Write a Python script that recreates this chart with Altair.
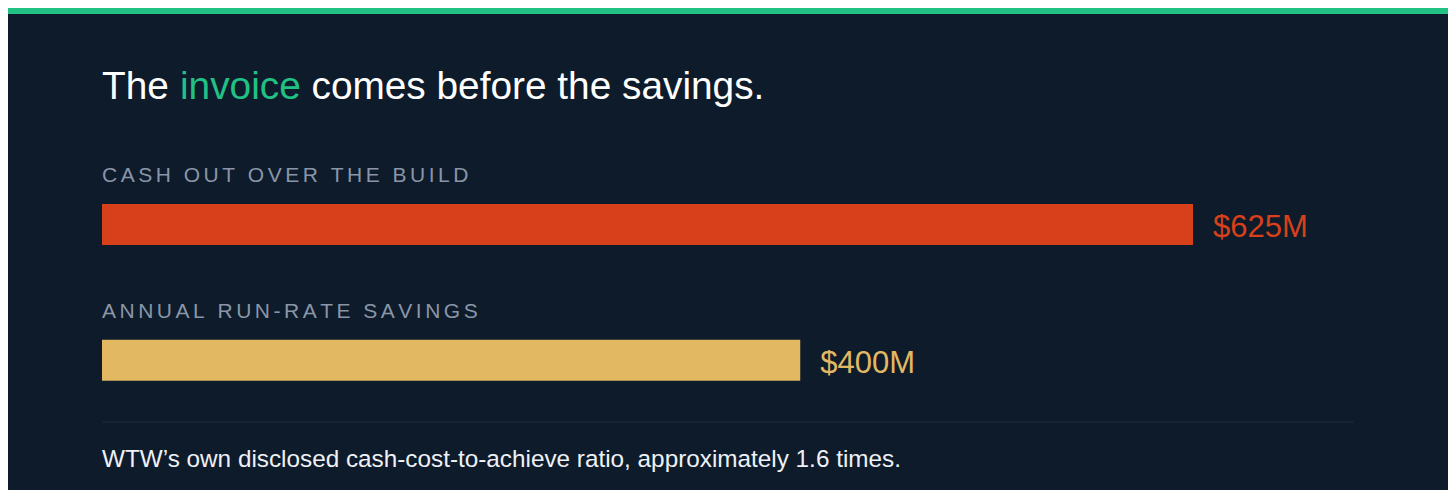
import altair as alt
import pandas as pd

# ---- data ----
categories = ["CASH OUT OVER THE BUILD", "ANNUAL RUN-RATE SAVINGS"]
values = [625, 400]
value_labels = ["$625M", "$400M"]
bar_colors = ["#d7401a", "#e2b862"]
title_parts = ["The", "invoice", "comes before the savings."]
footer_text = "WTW\u2019s own disclosed cash-cost-to-achieve ratio, approximately 1.6 times."

BG = "#0e1b2b"
GREEN = "#21c085"
FONT = "Liberation Sans"


def spaced(s):
    return "\u2006".join(list(s))


df = pd.DataFrame({
    "idx": list(range(len(categories))),
    "category": categories,
    "label": [spaced(c) for c in categories],
    "value": values,
    "vlabel": value_labels,
    "color": bar_colors,
})
one = pd.DataFrame({"k": [0]})

xscale = alt.Scale(domain=[0, 625], range=[94, 1185], padding=0)
yscale = alt.Scale(domain=[0, 1], range=[216.4, 352.3], padding=0)

base = alt.Chart(df)

bars = base.mark_bar(orient="horizontal", size=41).encode(
    x=alt.X("value:Q", scale=xscale, axis=None),
    y=alt.Y("idx:Q", scale=yscale, axis=None),
    color=alt.Color("color:N", scale=None, legend=None),
)

cat_labels = base.mark_text(
    align="left", baseline="alphabetic", dy=-42.5, font=FONT, fontSize=21, color="#8a96a7"
).encode(
    x=alt.value(94),
    y=alt.Y("idx:Q", scale=yscale, axis=None),
    text="label:N",
)

val_labels = base.mark_text(
    align="left", baseline="alphabetic", dx=20, dy=13, font=FONT, fontSize=31
).encode(
    x=alt.X("value:Q", scale=xscale, axis=None),
    y=alt.Y("idx:Q", scale=yscale, axis=None),
    text="vlabel:N",
    color=alt.Color("color:N", scale=None, legend=None),
)

ob = alt.Chart(one)
stripe = ob.mark_rect(color=GREEN).encode(
    x=alt.value(0), x2=alt.value(1440), y=alt.value(0), y2=alt.value(6)
)

TS = 38.8
t1 = ob.mark_text(align="left", baseline="alphabetic", font=FONT, fontSize=TS, color="#ffffff").encode(
    x=alt.value(94), y=alt.value(91), text=alt.value(title_parts[0])
)
t2 = ob.mark_text(align="left", baseline="alphabetic", font=FONT, fontSize=TS, color=GREEN).encode(
    x=alt.value(172), y=alt.value(91), text=alt.value(title_parts[1])
)
t3 = ob.mark_text(align="left", baseline="alphabetic", font=FONT, fontSize=TS, color="#ffffff").encode(
    x=alt.value(303.5), y=alt.value(91), text=alt.value(title_parts[2])
)

divider = ob.mark_rule(color="#1f2c3d", strokeWidth=1).encode(
    x=alt.value(94), x2=alt.value(1346), y=alt.value(414)
)

footer = ob.mark_text(align="left", baseline="alphabetic", font=FONT, fontSize=24.3, color="#eef1f5").encode(
    x=alt.value(94), y=alt.value(459.3), text=alt.value(footer_text)
)

chart = alt.layer(stripe, t1, t2, t3, bars, cat_labels, val_labels, divider, footer).properties(
    width=1440,
    height=482,
    autosize=alt.AutoSizeParams(type="none"),
    padding=0,
    background=BG,
).configure_view(stroke=None)

chart.save("out.html", embed_options={"renderer": "svg", "actions": False})
